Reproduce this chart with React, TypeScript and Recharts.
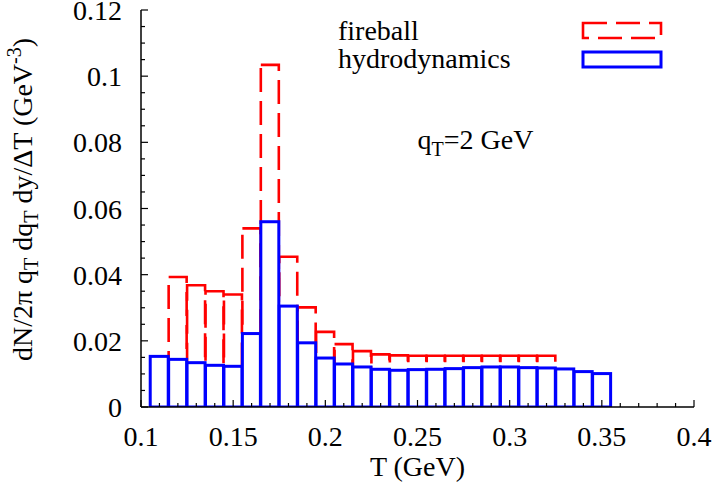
import { Bar, ComposedChart, Legend, ReferenceDot, XAxis, YAxis } from "recharts";

// bin centres (GeV), each bin 0.01 wide
const temperatures = [
  0.11, 0.12, 0.13, 0.14, 0.15, 0.16, 0.17, 0.18, 0.19, 0.2, 0.21, 0.22, 0.23,
  0.24, 0.25, 0.26, 0.27, 0.28, 0.29, 0.3, 0.31, 0.32, 0.33, 0.34, 0.35,
];

const fireball = [
  null, 0.0393, 0.0368, 0.035, 0.034, 0.054, 0.1034, 0.0454, 0.0301, 0.0227, 0.019, 0.0169, 0.0159,
  0.0156, 0.0155, 0.0155, 0.0155, 0.0155, 0.0155, 0.0155, 0.0155, 0.0155, null, null, null,
];

const hydrodynamics = [
  0.0153, 0.0144, 0.0134, 0.0126, 0.0123, 0.0222, 0.056, 0.0305, 0.0194, 0.0148, 0.013, 0.0121, 0.0114,
  0.0111, 0.0113, 0.0114, 0.0116, 0.0119, 0.0121, 0.0121, 0.0119, 0.0118, 0.0115, 0.0107, 0.0101,
];

const xMajorTicks = [0.1, 0.15, 0.2, 0.25, 0.3, 0.35, 0.4];
const xTicks = [
  0.1, 0.11, 0.12, 0.13, 0.14, 0.15, 0.16, 0.17, 0.18, 0.19, 0.2, 0.21, 0.22, 0.23, 0.24, 0.25,
  0.26, 0.27, 0.28, 0.29, 0.3, 0.31, 0.32, 0.33, 0.34, 0.35, 0.36, 0.37, 0.38, 0.39, 0.4,
];
const yMajorTicks = [0, 0.02, 0.04, 0.06, 0.08, 0.1, 0.12];
const yTicks = [
  0, 0.005, 0.01, 0.015, 0.02, 0.025, 0.03, 0.035, 0.04, 0.045, 0.05, 0.055, 0.06, 0.065, 0.07,
  0.075, 0.08, 0.085, 0.09, 0.095, 0.1, 0.105, 0.11, 0.115, 0.12,
];

const data = temperatures.map((t, i) => ({
  t,
  fireball: fireball[i],
  hydrodynamics: hydrodynamics[i],
}));

const FONT = "'Liberation Serif', 'Times New Roman', serif";
const FS = 28;
const RED = "#ff0000";
const BLUE = "#0000ff";
const MAJOR = 7;
const MINOR = 4;

const isMajor = (v: number, majors: number[]) => majors.some((m) => Math.abs(m - v) < 1e-9);

function BottomTick({ x, y, payload }: any) {
  const major = isMajor(payload.value, xMajorTicks);
  return (
    <g>
      <line x1={x} x2={x} y1={y} y2={y - (major ? MAJOR : MINOR)} stroke="#000" strokeWidth={1.2} />
      {major && (
        <text x={x} y={y + 39} textAnchor="middle" fontFamily={FONT} fontSize={FS} fill="#000">
          {String(payload.value)}
        </text>
      )}
    </g>
  );
}

function TopTick({ x, y, payload }: any) {
  const major = isMajor(payload.value, xMajorTicks);
  return <line x1={x} x2={x} y1={y} y2={y + (major ? MAJOR : MINOR)} stroke="#000" strokeWidth={1.2} />;
}

function LeftTick({ x, y, payload }: any) {
  const major = isMajor(payload.value, yMajorTicks);
  return (
    <g>
      <line x1={x} x2={x + (major ? MAJOR : MINOR)} y1={y} y2={y} stroke="#000" strokeWidth={1.2} />
      {major && (
        <text x={x - 19} y={y + 10} textAnchor="end" fontFamily={FONT} fontSize={FS} fill="#000">
          {String(payload.value)}
        </text>
      )}
    </g>
  );
}

function RightTick({ x, y, payload }: any) {
  const major = isMajor(payload.value, yMajorTicks);
  return <line x1={x} x2={x - (major ? MAJOR : MINOR)} y1={y} y2={y} stroke="#000" strokeWidth={1.2} />;
}

function FireballBox({ x, y, width, height }: any) {
  if (!height || !Number.isFinite(height)) return null;
  return (
    <rect x={x} y={y} width={width} height={height} fill="none" stroke={RED} strokeWidth={2.6} strokeDasharray="24 9" />
  );
}

function HydroBox({ x, y, width, height }: any) {
  if (!height || !Number.isFinite(height)) return null;
  return <rect x={x} y={y} width={width} height={height} fill="#fff" stroke={BLUE} strokeWidth={3} />;
}

function YTitle({ viewBox }: any) {
  const cx = viewBox.x + 32;
  const cy = viewBox.y + viewBox.height / 2 - 9;
  return (
    <text x={cx} y={cy} transform={`rotate(-90 ${cx} ${cy})`} textAnchor="middle" fontFamily={FONT} fontSize={FS} fill="#000">
      {"dN/2π q"}
      <tspan fontSize={20} dy={6}>T</tspan>
      <tspan dy={-6}>{" dq"}</tspan>
      <tspan fontSize={20} dy={6}>T</tspan>
      <tspan dy={-6}>{" dy/ΔT (GeV"}</tspan>
      <tspan fontSize={20} dy={-11}>-3</tspan>
      <tspan dy={11}>)</tspan>
    </text>
  );
}

function XTitle({ viewBox }: any) {
  return (
    <text x={viewBox.x + viewBox.width / 2} y={viewBox.y + 69} textAnchor="middle" fontFamily={FONT} fontSize={FS} fill="#000">
      T (GeV)
    </text>
  );
}

function QtNote({ viewBox }: any) {
  return (
    <text x={viewBox.x + 1} y={viewBox.y + 1} fontFamily={FONT} fontSize={FS} fill="#000">
      q
      <tspan fontSize={20} dy={7}>T</tspan>
      <tspan dy={-7}>=2 GeV</tspan>
    </text>
  );
}

const legendLook: Record<string, { stroke: string; dash?: string; width: number }> = {
  fireball: { stroke: RED, dash: "24 9", width: 2.6 },
  hydrodynamics: { stroke: BLUE, width: 3 },
};

function LegendBox({ payload }: any) {
  return (
    <svg width={719} height={80} style={{ display: "block" }}>
      {(payload || []).map((item: any, i: number) => {
        const look = legendLook[item.dataKey] || { stroke: item.color, width: 2 };
        return (
          <g key={item.dataKey}>
            <text x={338} y={40 + i * 28} fontFamily={FONT} fontSize={FS} fill="#000">
              {item.value}
            </text>
            <rect
              x={583}
              y={23 + i * 29}
              width={78}
              height={15}
              fill="none"
              stroke={look.stroke}
              strokeWidth={look.width}
              strokeDasharray={look.dash}
            />
          </g>
        );
      })}
    </svg>
  );
}

export default function App() {
  return (
    <div style={{ position: "absolute", left: 0, top: 0, background: "#fff" }}>
      <ComposedChart
        width={719}
        height={496}
        data={data}
        margin={{ top: 10, right: 25, bottom: 0, left: 0 }}
        barCategoryGap={0}
        barGap={0}
      >
        <XAxis
          xAxisId="bottom"
          dataKey="t"
          type="number"
          domain={[0.1, 0.4]}
          ticks={xTicks}
          interval={0}
          allowDataOverflow
          height={89}
          tickSize={0}
          tickMargin={0}
          tickLine={false}
          tick={BottomTick}
          axisLine={{ stroke: "#000", strokeWidth: 1.5 }}
          label={{ content: XTitle }}
        />
        <XAxis
          xAxisId="top"
          orientation="top"
          dataKey="t"
          type="number"
          domain={[0.1, 0.4]}
          ticks={xTicks}
          interval={0}
          allowDataOverflow
          height={0}
          tickSize={0}
          tickMargin={0}
          tickLine={false}
          tick={TopTick}
          axisLine={{ stroke: "#000", strokeWidth: 1.5 }}
        />
        <YAxis
          yAxisId="left"
          type="number"
          domain={[0, 0.12]}
          ticks={yTicks}
          interval={0}
          allowDataOverflow
          width={141}
          tickSize={0}
          tickMargin={0}
          tickLine={false}
          tick={LeftTick}
          axisLine={{ stroke: "#000", strokeWidth: 1.5 }}
          label={{ content: YTitle }}
        />
        <YAxis
          yAxisId="right"
          orientation="right"
          type="number"
          domain={[0, 0.12]}
          ticks={yTicks}
          interval={0}
          allowDataOverflow
          width={0}
          tickSize={0}
          tickMargin={0}
          tickLine={false}
          tick={RightTick}
          axisLine={{ stroke: "#000", strokeWidth: 1.5 }}
        />
        <Bar
          dataKey="fireball"
          name="fireball"
          xAxisId="bottom"
          yAxisId="left"
          fill="none"
          stroke={RED}
          shape={FireballBox}
          isAnimationActive={false}
        />
        <Bar
          dataKey="hydrodynamics"
          name="hydrodynamics"
          xAxisId="top"
          yAxisId="right"
          fill="#fff"
          stroke={BLUE}
          shape={HydroBox}
          isAnimationActive={false}
        />
        <ReferenceDot
          xAxisId="bottom"
          yAxisId="left"
          x={0.25}
          y={0.078}
          r={1}
          fill="none"
          stroke="none"
          label={{ content: QtNote }}
        />
        <Legend
          layout="vertical"
          align="center"
          verticalAlign="middle"
          content={LegendBox}
          wrapperStyle={{ position: "absolute", top: 0, left: 0, width: 719, height: 80 }}
        />
      </ComposedChart>
    </div>
  );
}
